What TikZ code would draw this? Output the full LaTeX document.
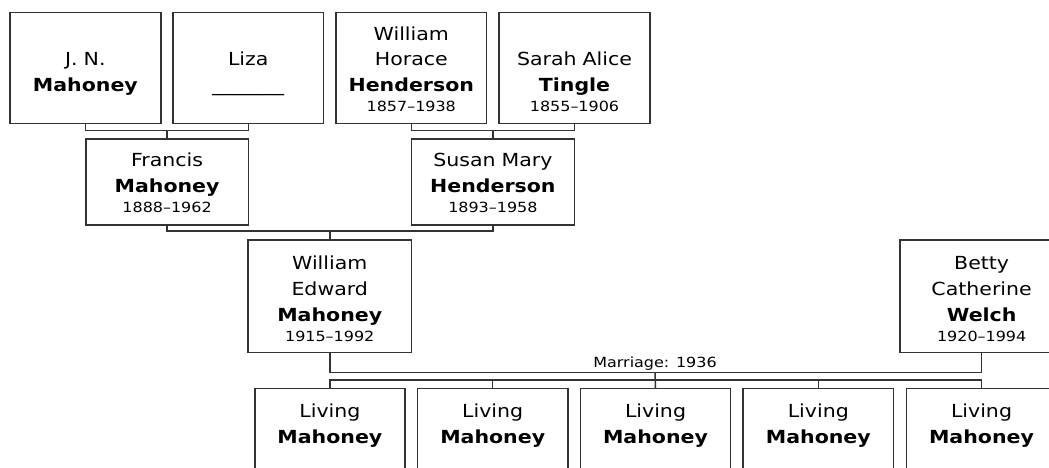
\documentclass[tikz,border=0pt]{standalone}
\usepackage{fontspec}
\setmainfont[FakeStretch=1.14]{DejaVu Sans}
\definecolor{linec}{HTML}{333333}
\newcommand\nmfont{\fontsize{18}{25.8}\selectfont}
\newcommand\dtfont{\fontsize{14}{18}\selectfont}
\newcommand\fl{\rule{0pt}{20pt}}
\newcommand\dt[1]{\\[-5.8pt]{\dtfont #1}}
\begin{document}
\begin{tikzpicture}[x=1pt,y=-1pt,
  pbox/.style={draw=linec, line width=1.5pt, inner sep=0pt, anchor=north west},
  topbox/.style={pbox, minimum width=150.7pt, minimum height=111pt},
  midbox/.style={pbox, minimum width=162.7pt, minimum height=85.7pt},
  wbox/.style={pbox, minimum width=163.4pt, minimum height=112.4pt},
  kidbox/.style={pbox, minimum width=150.3pt, minimum height=111pt},
  txt/.style={anchor=north, inner sep=0pt, text width=170pt, align=center, font=\nmfont, text=black},
  conn/.style={draw=linec, line width=1.5pt}]
\useasboundingbox (0,0) rectangle (1049,468);
\clip (0,0) rectangle (1049,468);
% boxes
\node[topbox] (jn) at (9.3,11.7) {};
\node[topbox] (liza) at (172.2,11.7) {};
\node[topbox] (wh) at (335.2,11.7) {};
\node[topbox] (sa) at (498.4,11.7) {};
\node[midbox] (fr) at (85,138.3) {};
\node[midbox] (su) at (410.8,138.3) {};
\node[wbox] (we) at (247.3,239.3) {};
\node[wbox] (be) at (899.2,239.3) {};
\node[kidbox] (c1) at (254,387.8) {};
\node[kidbox] (c2) at (416.8,387.8) {};
\node[kidbox] (c3) at (579.6,387.8) {};
\node[kidbox] (c4) at (742.4,387.8) {};
\node[kidbox] (c5) at (905.6,387.8) {};
% texts
\node[txt] (jnt) at (jn.north |- 0,45.7) {\fl J. N.\\\textbf{Mahoney}};
\node[txt] (lizat) at (liza.north |- 0,45.7) {\fl Liza\\\_\_\_\_\_\_\_};
\node[txt] (wht) at (wh.north |- 0,20) {\fl William\\Horace\\\textbf{Henderson}\dt{1857–1938}};
\node[txt] (sat) at (sa.north |- 0,45.7) {\fl Sarah Alice\\\textbf{Tingle}\dt{1855–1906}};
\node[txt] (frt) at (fr.north |- 0,146.7) {\fl Francis\\\textbf{Mahoney}\dt{1888–1962}};
\node[txt] (sut) at (su.north |- 0,146.7) {\fl Susan Mary\\\textbf{Henderson}\dt{1893–1958}};
\node[txt] (wet) at (we.north |- 0,249.3) {\fl William\\Edward\\\textbf{Mahoney}\dt{1915–1992}};
\node[txt] (bet) at (be.north |- 0,249.3) {\fl Betty\\Catherine\\\textbf{Welch}\dt{1920–1994}};
\foreach \k in {c1,c2,c3,c4,c5}{
  \node[txt] (\k t) at (\k.north |- 0,397.3) {\fl Living\\\textbf{Mahoney}};
}
% connectors
\coordinate (g1) at (166.2,130.7);
\coordinate (g2) at (492.3,130.7);
\coordinate (g3) at (329,230.8);
\coordinate (m) at (655,372.3);
\coordinate (bus) at (655,379.8);
\draw[conn] (jn.south) |- (g1) -| (liza.south);
\draw[conn] (fr.north) -- (fr.north |- g1);
\draw[conn] (wh.south) |- (g2) -| (sa.south);
\draw[conn] (su.north) -- (su.north |- g2);
\draw[conn] (fr.south) |- (g3) -| (su.south);
\draw[conn] (we.north) -- (we.north |- g3);
\draw[conn] (we.south) |- (m) -| (be.south);
\node[anchor=base, inner sep=0pt, font=\dtfont, text=black] (mlabel) at (655,367.7) {Marriage: 1936};
\draw[conn] (m) -- (c3.north);
\draw[conn] (c1.north) |- (bus) -| (c5.north);
\draw[conn] (c2.north) -- (c2.north |- bus);
\draw[conn] (c4.north) -- (c4.north |- bus);
\end{tikzpicture}
\end{document}
